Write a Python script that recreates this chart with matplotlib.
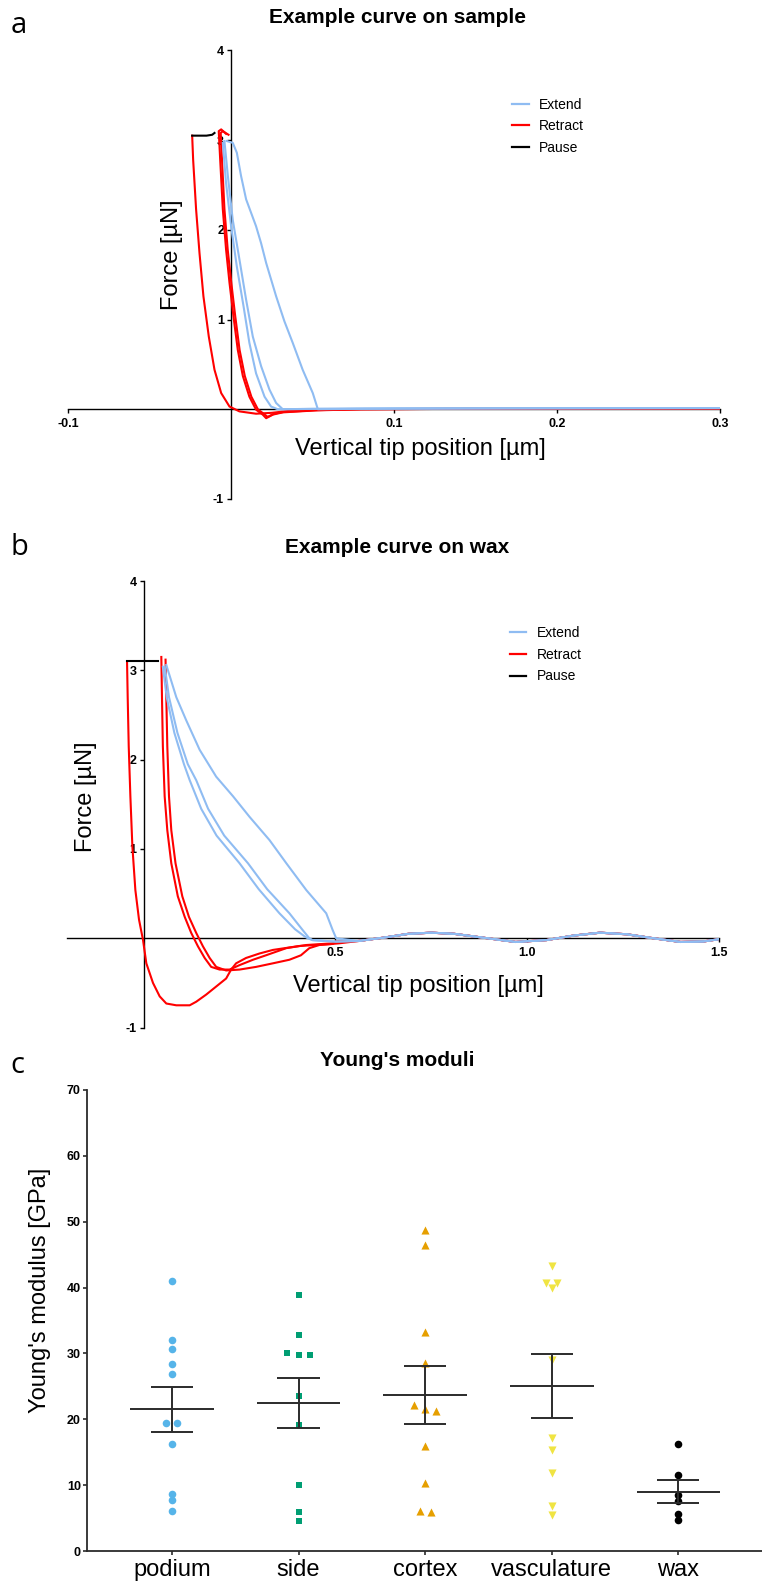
import numpy as np
import matplotlib.pyplot as plt
from matplotlib.lines import Line2D

plt.rcParams['font.family'] = ['Liberation Sans', 'DejaVu Sans']

BLUE = '#8fbcf2'
RED = '#ff0000'
AXC = '#2b2b2b'

# ---- panel a: example curve on sample (x in um, y in uN) ----
a_ext1_x = [-0.0026, 0.0011, 0.0036, 0.0062, 0.0093, 0.0154, 0.0185, 0.0216, 0.0277, 0.0328, 0.0379, 0.0440, 0.0502, 0.0533, 0.08, 0.15, 0.22, 0.30]
a_ext1_y = [2.99, 2.97, 2.86, 2.60, 2.34, 2.04, 1.85, 1.63, 1.26, 0.98, 0.74, 0.44, 0.18, 0.00, 0.005, 0.010, 0.012, 0.013]
a_ext2_x = [-0.0040, -0.0019, 0.0011, 0.0052, 0.0093, 0.0134, 0.0185, 0.0236, 0.0277, 0.0318, 0.05, 0.10, 0.20, 0.30]
a_ext2_y = [2.99, 2.60, 2.11, 1.67, 1.22, 0.81, 0.48, 0.22, 0.07, 0.00, 0.004, 0.008, 0.011, 0.013]
a_ext3_x = [-0.0050, -0.0030, 0.0001, 0.0036, 0.0077, 0.0113, 0.0154, 0.0206, 0.0246, 0.0287, 0.05, 0.10, 0.20, 0.30]
a_ext3_y = [2.97, 2.52, 2.04, 1.59, 1.15, 0.74, 0.40, 0.14, 0.03, 0.00, 0.004, 0.008, 0.011, 0.013]

a_ret1_x = [-0.0238, -0.0232, -0.0214, -0.0193, -0.0169, -0.0136, -0.0101, -0.0060, -0.0009, 0.0052, 0.0154, 0.0250, 0.0350, 0.0600, 0.1500, 0.3000]
a_ret1_y = [3.05, 2.78, 2.23, 1.74, 1.26, 0.81, 0.44, 0.18, 0.03, -0.024, -0.05, -0.04, -0.02, 0.0, 0.005, 0.008]
a_ret2_x = [-0.0030, -0.0060, -0.0075, -0.0066, -0.0050, -0.0030, -0.0009, 0.0015, 0.0042, 0.0073, 0.0113, 0.0154, 0.0195, 0.0216, 0.0257, 0.0318, 0.0420, 0.0520, 0.0800, 0.1500, 0.3000]
a_ret2_y = [3.07, 3.12, 3.10, 2.78, 2.23, 1.78, 1.41, 1.04, 0.66, 0.37, 0.14, -0.005, -0.06, -0.10, -0.06, -0.035, -0.024, -0.013, 0.0, 0.005, 0.008]
a_ret3_x = [-0.0015, -0.0050, -0.0063, -0.0055, -0.0040, -0.0020, 0.0002, 0.0026, 0.0053, 0.0085, 0.0125, 0.0165, 0.0200, 0.0225, 0.0265, 0.0325, 0.0430, 0.0530, 0.0800, 0.1500, 0.3000]
a_ret3_y = [3.06, 3.10, 3.08, 2.78, 2.23, 1.78, 1.41, 1.04, 0.66, 0.37, 0.14, 0.0, -0.05, -0.085, -0.05, -0.03, -0.02, -0.01, 0.0, 0.005, 0.008]

a_pause_x = [-0.0238, -0.0200, -0.0150, -0.0115, -0.0101]
a_pause_y = [3.05, 3.05, 3.05, 3.06, 3.08]

a_xticks = [-0.1, 0.1, 0.2, 0.3]
a_xticklabels = ['-0.1', '0.1', '0.2', '0.3']

# ---- panel b: example curve on wax ----
b_ext1_x = [0.059, 0.085, 0.111, 0.146, 0.189, 0.233, 0.276, 0.328, 0.372, 0.424, 0.476, 0.493, 0.502]
b_ext1_y = [3.06, 2.70, 2.44, 2.11, 1.81, 1.59, 1.36, 1.10, 0.84, 0.54, 0.28, 0.09, 0.00]
b_ext2_x = [0.055, 0.066, 0.088, 0.115, 0.137, 0.168, 0.210, 0.272, 0.322, 0.380, 0.415, 0.432]
b_ext2_y = [3.04, 2.70, 2.30, 1.95, 1.77, 1.45, 1.15, 0.84, 0.55, 0.28, 0.09, 0.00]
b_ext3_x = [0.050, 0.060, 0.080, 0.105, 0.120, 0.150, 0.190, 0.250, 0.300, 0.354, 0.395, 0.420, 0.428]
b_ext3_y = [3.04, 2.70, 2.30, 1.95, 1.77, 1.45, 1.15, 0.84, 0.55, 0.28, 0.10, 0.02, 0.00]

b_ret1_x = [-0.0434, -0.0417, -0.0390, -0.0347, -0.0295, -0.0217, -0.0122, -0.0017, 0.0069, 0.0243, 0.0417, 0.0590, 0.0850, 0.1200, 0.1370, 0.1630, 0.1890, 0.2150, 0.2280, 0.2410, 0.2670, 0.3020, 0.3370, 0.4060, 0.4930]
b_ret1_y = [3.10, 2.70, 2.15, 1.59, 1.03, 0.54, 0.21, -0.02, -0.28, -0.50, -0.65, -0.73, -0.75, -0.75, -0.71, -0.63, -0.54, -0.45, -0.35, -0.28, -0.22, -0.17, -0.13, -0.086, -0.063]
b_ret2_x = [0.046, 0.0477, 0.050, 0.0547, 0.0616, 0.072, 0.089, 0.107, 0.124, 0.1415, 0.159, 0.176, 0.198, 0.224, 0.250, 0.285, 0.319, 0.372, 0.424, 0.493]
b_ret2_y = [3.15, 2.70, 2.15, 1.59, 1.21, 0.84, 0.47, 0.24, 0.06, -0.09, -0.22, -0.32, -0.35, -0.35, -0.30, -0.24, -0.19, -0.11, -0.075, -0.056]
b_ret3_x = [0.057, 0.059, 0.0616, 0.066, 0.072, 0.083, 0.1007, 0.118, 0.137, 0.1545, 0.172, 0.189, 0.215, 0.250, 0.293, 0.337, 0.380, 0.410, 0.432, 0.458, 0.510]
b_ret3_y = [3.12, 2.70, 2.15, 1.59, 1.21, 0.84, 0.47, 0.24, 0.06, -0.09, -0.22, -0.32, -0.36, -0.35, -0.32, -0.28, -0.24, -0.19, -0.11, -0.075, -0.056]

# wavy baseline shared by all wax curves away from the surface
b_base_x = [0.44, 0.50, 0.56, 0.63, 0.69, 0.75, 0.81, 0.88, 0.97, 1.05, 1.12, 1.19, 1.26, 1.33, 1.40, 1.46, 1.50]
b_base_y = [-0.02, -0.037, -0.03, 0.01, 0.05, 0.063, 0.05, 0.01, -0.041, -0.02, 0.03, 0.063, 0.045, 0.0, -0.041, -0.035, -0.01]

b_pause_x = [-0.0434, -0.0300, 0.0000, 0.0300, 0.0373]
b_pause_y = [3.10, 3.10, 3.10, 3.10, 3.10]

b_xticks = [0.5, 1.0, 1.5]
b_xticklabels = ['0.5', '1.0', '1.5']

force_yticks = [-1, 1, 2, 3, 4]
force_yticklabels = ['-1', '1', '2', '3', '4']
legend_labels = ['Extend', 'Retract', 'Pause']

# ---- panel c: Young's moduli [GPa] ----
categories = ['podium', 'side', 'cortex', 'vasculature', 'wax']
podium = [41.0, 32.1, 30.6, 28.4, 26.8, 19.4, 19.4, 16.3, 8.6, 7.7, 6.1]
side = [38.9, 32.8, 30.0, 29.8, 29.8, 23.6, 19.1, 10.0, 5.9, 4.5]
cortex = [48.8, 46.5, 33.3, 28.6, 22.1, 21.3, 21.5, 16.0, 10.3, 5.9, 6.1]
vasculature = [43.2, 40.7, 40.7, 40.0, 29.0, 17.2, 15.4, 11.8, 6.9, 5.5]
wax = [16.2, 11.6, 8.45, 7.6, 5.6, 4.7]
c_yticks = [0, 10, 20, 30, 40, 50, 60, 70]

c_colors = ['#56b4e9', '#009e73', '#e69f00', '#f0e442', '#000000']
c_markers = ['o', 's', '^', 'v', 'o']
c_sizes = [30, 24, 34, 34, 30]


def with_tail(x, y, tx, ty):
    x = np.asarray(x); y = np.asarray(y)
    tx = np.asarray(tx); ty = np.asarray(ty)
    keep = tx > x[-1]
    return np.concatenate([x, tx[keep]]), np.concatenate([y, ty[keep]])


def style_force(ax, xlim, xticks, xticklabels):
    ax.set_xlim(*xlim)
    ax.set_ylim(-1, 4)
    ax.spines['top'].set_visible(False)
    ax.spines['right'].set_visible(False)
    ax.spines['left'].set_position(('data', 0))
    ax.spines['bottom'].set_position(('data', 0))
    for s in ['left', 'bottom']:
        ax.spines[s].set_linewidth(1.0)
    ax.set_xticks(xticks)
    ax.set_xticklabels(xticklabels)
    ax.set_yticks(force_yticks)
    ax.set_yticklabels(force_yticklabels)
    ax.tick_params(direction='out', length=3, width=1, labelsize=9, pad=2)
    ax.tick_params(axis='x', pad=3)
    for t in ax.get_xticklabels() + ax.get_yticklabels():
        t.set_fontweight('bold')
    ax.set_facecolor('none')


def force_legend(ax, anchor):
    handles = [Line2D([], [], color=BLUE, lw=1.6),
               Line2D([], [], color=RED, lw=1.6),
               Line2D([], [], color='black', lw=1.6)]
    ax.legend(handles, legend_labels, loc='upper left', bbox_to_anchor=anchor,
              frameon=False, fontsize=10, handlelength=1.2, handletextpad=0.75,
              labelspacing=0.55, borderaxespad=0, borderpad=0)


fig = plt.figure(figsize=(7.62, 15.91), dpi=100)

# panel a
axa = fig.add_axes([0.0892, 0.6864, 0.8556, 0.2819])
for x, y in [(a_ret1_x, a_ret1_y), (a_ret2_x, a_ret2_y), (a_ret3_x, a_ret3_y)]:
    axa.plot(x, y, color=RED, lw=1.5, zorder=3)
for x, y in [(a_ext1_x, a_ext1_y), (a_ext2_x, a_ext2_y), (a_ext3_x, a_ext3_y)]:
    axa.plot(x, y, color=BLUE, lw=1.5, zorder=3)
axa.plot(a_pause_x, a_pause_y, color='black', lw=1.5, zorder=3)
style_force(axa, (-0.1, 0.3), a_xticks, a_xticklabels)
axa.set_xlabel('Vertical tip position [µm]', fontsize=17, va='baseline')
axa.xaxis.set_label_coords(0.54, 0.099)
axa.set_ylabel('Force [µN]', fontsize=17, va='center')
axa.yaxis.set_label_coords(0.159, 0.545)
force_legend(axa, (0.681, 0.895))

# panel b
axb = fig.add_axes([0.0879, 0.3541, 0.8556, 0.2807])
for x, y in [(b_ret1_x, b_ret1_y), (b_ret2_x, b_ret2_y), (b_ret3_x, b_ret3_y)]:
    xx, yy = with_tail(x, y, b_base_x, b_base_y)
    axb.plot(xx, yy, color=RED, lw=1.5, zorder=3)
for x, y in [(b_ext1_x, b_ext1_y), (b_ext2_x, b_ext2_y), (b_ext3_x, b_ext3_y)]:
    xx, yy = with_tail(x, y, b_base_x, b_base_y)
    axb.plot(xx, yy, color=BLUE, lw=1.5, zorder=3)
axb.plot(b_pause_x, b_pause_y, color='black', lw=1.5, zorder=3)
style_force(axb, (-0.2, 1.5), b_xticks, b_xticklabels)
axb.set_xlabel('Vertical tip position [µm]', fontsize=17, va='baseline')
axb.xaxis.set_label_coords(0.539, 0.080)
axb.set_ylabel('Force [µN]', fontsize=17, va='center')
axb.yaxis.set_label_coords(0.029, 0.517)
force_legend(axb, (0.679, 0.899))


# panel c
def swarm_offsets(vals, step=0.088, tol=0.7):
    vals = np.asarray(vals)
    order = np.argsort(-vals, kind='stable')
    offs = np.zeros(len(vals))
    groups, cur = [], [order[0]]
    for i in order[1:]:
        if vals[cur[-1]] - vals[i] < tol:
            cur.append(i)
        else:
            groups.append(cur)
            cur = [i]
    groups.append(cur)
    for g in groups:
        n = len(g)
        for k, i in enumerate(g):
            offs[i] = (k - (n - 1) / 2) * step
    return offs


axc = fig.add_axes([0.1142, 0.02514, 0.8858, 0.2898])
groups = [podium, side, cortex, vasculature, wax]
for i, vals in enumerate(groups):
    vals = np.asarray(vals)
    axc.scatter(i + swarm_offsets(vals), vals, s=c_sizes[i], marker=c_markers[i],
                color=c_colors[i], linewidths=0, zorder=3)
    m = vals.mean()
    sem = vals.std(ddof=1) / np.sqrt(len(vals))
    axc.hlines(m, i - 0.33, i + 0.33, color=AXC, lw=1.4, zorder=4)
    axc.hlines([m - sem, m + sem], i - 0.166, i + 0.166, color=AXC, lw=1.4, zorder=4)
    axc.vlines(i, m - sem, m + sem, color=AXC, lw=1.4, zorder=4)

axc.set_xlim(-0.67, 4.66)
axc.set_ylim(0, 70)
axc.spines['top'].set_visible(False)
axc.spines['right'].set_visible(False)
for s in ['left', 'bottom']:
    axc.spines[s].set_color(AXC)
    axc.spines[s].set_linewidth(1.3)
axc.set_xticks(range(len(categories)))
axc.set_xticklabels(categories, fontsize=17)
axc.set_yticks(c_yticks)
axc.set_yticklabels([str(v) for v in c_yticks], fontsize=9, fontweight='bold')
axc.tick_params(axis='y', direction='out', length=3, width=1.2, color=AXC, pad=1.5)
axc.tick_params(axis='x', direction='out', length=3, width=1.2, color=AXC, pad=3)
axc.set_ylabel("Young's modulus [GPa]", fontsize=17, va='center')
axc.yaxis.set_label_coords(-0.0696, 0.565)

# titles and panel letters
fig.text(0.521, 0.9887, 'Example curve on sample', ha='center', va='center', fontsize=15, fontweight='bold')
fig.text(0.521, 0.6556, 'Example curve on wax', ha='center', va='center', fontsize=15, fontweight='bold')
fig.text(0.521, 0.3337, "Young's moduli", ha='center', va='center', fontsize=15, fontweight='bold')
for letter, yy in [('a', 0.9793), ('b', 0.6512), ('c', 0.3256)]:
    fig.text(0.014, yy, letter, ha='left', va='baseline', fontsize=21, family=['Open Sans', 'DejaVu Sans'])

fig.savefig('out.png', dpi=100)
